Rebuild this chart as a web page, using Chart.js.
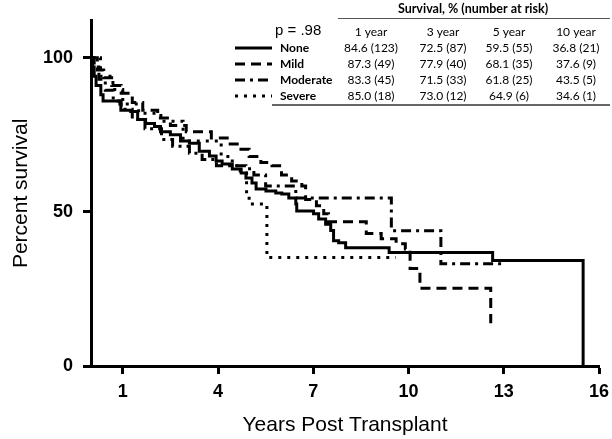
<!DOCTYPE html>
<html>
<head>
<meta charset="utf-8">
<script src="https://cdn.jsdelivr.net/npm/chart.js@4.4.1/dist/chart.umd.min.js"></script>
<style>
  html, body { margin: 0; padding: 0; background: #fff; }
  #wrap { width: 612px; height: 439px; }
</style>
</head>
<body>
<div id="wrap"><canvas id="kmChart" width="612" height="439"></canvas></div>
<script>
// Kaplan-Meier curves: years post transplant / percent survival
const noneYears = [0, 0.05, 0.1, 0.16, 0.31, 0.38, 0.91, 0.94, 1.25, 1.47, 1.72, 2.0, 2.19, 2.5, 2.82, 3.1, 3.41, 3.73, 3.94, 4.13, 4.45, 4.73, 4.88, 5.07, 5.2, 5.51, 5.82, 6.01, 6.23, 6.45, 6.48, 7.01, 7.17, 7.39, 7.55, 7.64, 7.8, 8.02, 9.39, 12.65, 15.5];
const noneSurv = [100, 97, 94, 91, 88, 86, 85, 83, 82.6, 80, 78.7, 77.7, 76, 75, 73, 72.3, 69.7, 68.1, 66.5, 65.5, 63.9, 62.6, 61, 59.4, 57.4, 56.8, 56.1, 55.8, 54.5, 52.6, 50.3, 49.4, 47.7, 46, 44, 40.6, 40, 38.4, 36.8, 34.2, 0];

const mildYears = [0, 0.2, 0.4, 0.65, 0.95, 1.3, 1.63, 2.1, 2.5, 3.0, 3.79, 4.29, 4.66, 4.98, 5.35, 5.7, 6.0, 6.32, 6.64, 6.76, 7.1, 7.33, 7.48, 8.67, 9.14, 9.61, 9.9, 10.05, 10.36, 12.59];
const mildSurv = [100, 96, 93.5, 91, 88.5, 85.5, 83, 80.5, 78, 76, 74, 72, 70.3, 68, 66, 65, 62, 60, 58.4, 54, 52, 49.4, 46.8, 43, 41.3, 39.7, 38, 31.6, 25.2, 13.9];

const moderateYears = [0, 0.1, 0.25, 0.45, 0.7, 0.95, 1.3, 1.7, 2.22, 2.57, 3.1, 3.5, 3.95, 4.88, 5.13, 5.5, 6.45, 9.46, 11.02, 13.03];
const moderateSurv = [100, 97, 93, 89.5, 86, 83.3, 80, 77, 73.5, 71.3, 69, 67, 65, 64, 62, 58.4, 54.5, 43.9, 33.2, 33.2];

const severeYears = [0, 0.3, 0.69, 1.0, 1.5, 2.2, 2.9, 4.1, 4.45, 4.7, 4.9, 4.98, 5.54, 9.6];
const severeSurv = [100, 94, 89.7, 85, 82, 79.4, 73, 68, 65, 62.6, 56, 52.6, 35.2, 35.2];

const xTicks = [1, 4, 7, 10, 13, 16];
const yTicks = [0, 50, 100];

// inset table
const groupNames = ['None', 'Mild', 'Moderate', 'Severe'];
const yearHeaders = ['1 year', '3 year', '5 year', '10 year'];
const noneRisk = ['84.6 (123)', '72.5 (87)', '59.5 (55)', '36.8 (21)'];
const mildRisk = ['87.3 (49)', '77.9 (40)', '68.1 (35)', '37.6 (9)'];
const moderateRisk = ['83.3 (45)', '71.5 (33)', '61.8 (25)', '43.5 (5)'];
const severeRisk = ['85.0 (18)', '73.0 (12)', '64.9 (6)', '34.6 (1)'];
const tableTitle = 'Survival, % (number at risk)';
const pValue = 'p = .98';

const lineDashes = [[], [10, 6], [10, 5, 3, 5], [3, 6]];

function toPoints(xs, ys) {
    return xs.map((x, i) => ({ x: x, y: ys[i] }));
}

function curve(label, xs, ys, dash) {
    return {
        label: label,
        data: toPoints(xs, ys),
        borderColor: '#000',
        borderWidth: 3,
        borderDash: dash,
        borderCapStyle: 'butt',
        stepped: 'before',
        pointRadius: 0,
        fill: false
    };
}

const riskTable = {
    id: 'riskTable',
    afterDraw(chart) {
        const ctx = chart.ctx;
        const colX = [371, 443, 509, 576];
        const rowY = [48, 64, 80, 96];
        const rows = [noneRisk, mildRisk, moderateRisk, severeRisk];
        const tableFont = 'Lato, "Open Sans", sans-serif';

        ctx.save();
        ctx.fillStyle = '#000';
        ctx.textBaseline = 'middle';

        ctx.font = 'bold 12.5px ' + tableFont;
        ctx.textAlign = 'center';
        ctx.fillText(tableTitle, 473, 9);

        ctx.strokeStyle = '#555';
        ctx.lineWidth = 1;
        ctx.beginPath();
        ctx.moveTo(338, 18.5);
        ctx.lineTo(610, 18.5);
        ctx.stroke();

        ctx.font = '15px "Liberation Sans", Arial, sans-serif';
        ctx.textAlign = 'left';
        ctx.fillText(pValue, 275, 31);

        ctx.font = '12px ' + tableFont;
        ctx.textAlign = 'center';
        yearHeaders.forEach((h, i) => ctx.fillText(h, colX[i], 32));

        rows.forEach((vals, r) => {
            ctx.font = 'bold 12px ' + tableFont;
            ctx.textAlign = 'left';
            ctx.fillText(groupNames[r], 280, rowY[r]);
            ctx.font = '12px ' + tableFont;
            ctx.textAlign = 'center';
            vals.forEach((v, i) => ctx.fillText(v, colX[i], rowY[r]));

            // line sample
            ctx.strokeStyle = '#000';
            ctx.lineWidth = 3;
            ctx.setLineDash(lineDashes[r]);
            ctx.beginPath();
            ctx.moveTo(235, rowY[r]);
            ctx.lineTo(272, rowY[r]);
            ctx.stroke();
            ctx.setLineDash([]);
        });

        ctx.strokeStyle = '#666';
        ctx.lineWidth = 2;
        ctx.beginPath();
        ctx.moveTo(272, 105);
        ctx.lineTo(610, 105);
        ctx.stroke();
        ctx.restore();
    }
};

const axisGrid = {
    display: true,
    drawOnChartArea: false,
    drawTicks: true,
    tickLength: 8,
    tickWidth: 3,
    tickColor: '#000'
};

const ctx = document.getElementById('kmChart').getContext('2d');
new Chart(ctx, {
    type: 'line',
    data: {
        datasets: [
            curve('None', noneYears, noneSurv, lineDashes[0]),
            curve('Mild', mildYears, mildSurv, lineDashes[1]),
            curve('Moderate', moderateYears, moderateSurv, lineDashes[2]),
            curve('Severe', severeYears, severeSurv, lineDashes[3])
        ]
    },
    options: {
        responsive: false,
        animation: false,
        layout: { padding: { left: 0, right: 13, top: 19, bottom: 0 } },
        plugins: {
            legend: { display: false },
            tooltip: { enabled: false }
        },
        scales: {
            x: {
                type: 'linear',
                min: 0,
                max: 16,
                afterBuildTicks: (scale) => { scale.ticks = xTicks.map(v => ({ value: v })); },
                afterFit: (scale) => {
                    scale.height = 73;
                    scale.paddingLeft = 0;
                    scale.paddingRight = 0;
                },
                grid: axisGrid,
                border: { display: true, width: 3, color: '#000' },
                ticks: {
                    color: '#000',
                    padding: 7,
                    maxRotation: 0,
                    font: { family: '"Liberation Sans", Arial, sans-serif', size: 18, weight: 'bold' }
                },
                title: {
                    display: true,
                    text: 'Years Post Transplant',
                    color: '#000',
                    padding: { top: 0, bottom: 1 },
                    font: { family: '"Liberation Sans", Arial, sans-serif', size: 21 }
                }
            },
            y: {
                min: 0,
                max: 112,
                afterBuildTicks: (scale) => { scale.ticks = yTicks.map(v => ({ value: v })); },
                afterFit: (scale) => { scale.width = 91; },
                grid: axisGrid,
                border: { display: true, width: 3, color: '#000' },
                ticks: {
                    color: '#000',
                    padding: 10,
                    font: { family: '"Liberation Sans", Arial, sans-serif', size: 18, weight: 'bold' }
                },
                title: {
                    display: true,
                    text: 'Percent survival',
                    color: '#000',
                    padding: { top: 9, bottom: 0 },
                    font: { family: '"Liberation Sans", Arial, sans-serif', size: 21 }
                }
            }
        }
    },
    plugins: [riskTable]
});
</script>
</body>
</html>
